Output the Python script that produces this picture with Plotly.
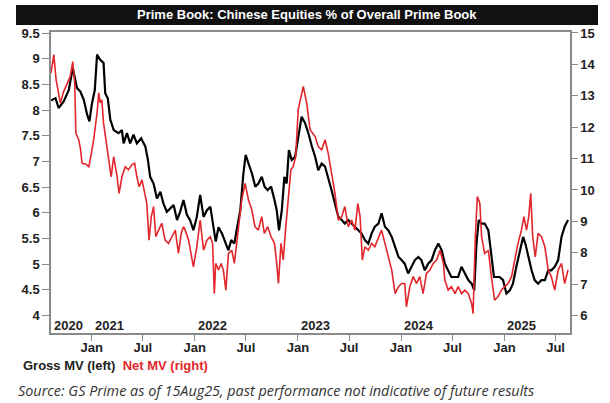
import plotly.graph_objects as go

# ---------------- data ----------------
gross_dates = [
    "2020-08-11","2020-08-14","2020-08-26","2020-09-06","2020-09-24","2020-10-12","2020-10-26","2020-11-10",
    "2020-11-22","2020-12-04","2020-12-16","2020-12-24","2021-01-02","2021-01-12","2021-01-20","2021-01-31",
    "2021-02-12","2021-02-18","2021-02-27","2021-03-08","2021-03-20","2021-04-06","2021-04-18","2021-04-24",
    "2021-05-06","2021-05-17","2021-05-29","2021-06-10","2021-06-25","2021-07-10","2021-07-19","2021-07-27",
    "2021-08-08","2021-08-20","2021-09-01","2021-09-12","2021-09-24","2021-10-06","2021-10-18","2021-10-30",
    "2021-11-10","2021-11-22","2021-12-04","2021-12-15","2021-12-27","2022-01-08","2022-01-20","2022-02-01",
    "2022-02-13","2022-02-25","2022-03-08","2022-03-16","2022-03-26","2022-04-07","2022-04-18","2022-04-30",
    "2022-05-10","2022-05-21","2022-05-29","2022-06-11","2022-06-22","2022-06-30","2022-07-10","2022-07-22",
    "2022-08-03","2022-08-14","2022-08-26","2022-09-05","2022-09-16","2022-09-28","2022-10-10","2022-10-18",
    "2022-10-26","2022-11-05","2022-11-14","2022-11-22","2022-11-30","2022-12-10","2022-12-22","2023-01-03",
    "2023-01-14","2023-01-26","2023-02-07","2023-02-19","2023-03-03","2023-03-14","2023-03-26","2023-04-07",
    "2023-04-18","2023-04-30","2023-05-12","2023-05-24","2023-06-05","2023-06-16","2023-06-28","2023-07-10",
    "2023-07-22","2023-08-03","2023-08-14","2023-08-26","2023-09-07","2023-09-19","2023-09-30","2023-10-13",
    "2023-10-24","2023-11-05","2023-11-17","2023-11-29","2023-12-11","2023-12-23","2024-01-03","2024-01-14",
    "2024-01-26","2024-02-07","2024-02-19","2024-03-02","2024-03-13","2024-03-25","2024-04-06","2024-04-18",
    "2024-04-30","2024-05-12","2024-05-24","2024-06-04","2024-06-16","2024-06-27","2024-07-10","2024-07-21",
    "2024-08-02","2024-08-14","2024-08-26","2024-09-07","2024-09-16","2024-09-24","2024-10-02","2024-10-12",
    "2024-10-23","2024-11-05","2024-11-16","2024-11-25","2024-12-04","2024-12-15","2024-12-27","2025-01-08",
    "2025-01-20","2025-01-31","2025-02-12","2025-02-24","2025-03-08","2025-03-16","2025-03-26","2025-04-07",
    "2025-04-18","2025-04-30","2025-05-12","2025-05-24","2025-06-05","2025-06-16","2025-06-28","2025-07-10",
    "2025-07-22","2025-08-02","2025-08-14",
]
gross_mv = [
    8.18, 8.20, 8.23, 8.04, 8.17, 8.39, 8.82, 8.43,
    8.36, 8.20, 7.91, 7.78, 8.13, 8.39, 9.08, 8.98,
    8.92, 8.33, 8.23, 7.81, 7.61, 7.55, 7.61, 7.35,
    7.55, 7.35, 7.52, 7.35, 7.45, 7.29, 7.03, 6.70,
    6.57, 6.28, 6.41, 6.18, 6.02, 6.09, 6.15, 5.86,
    6.02, 6.25, 5.96, 5.86, 5.66, 5.92, 6.35, 5.92,
    6.05, 6.12, 5.73, 5.44, 5.72, 5.60, 5.44, 5.27,
    5.47, 5.40, 5.66, 6.05, 6.77, 7.13, 6.96, 6.77,
    6.51, 6.57, 6.70, 6.51, 6.44, 6.51, 6.25, 6.05,
    5.66, 6.05, 6.70, 6.57, 7.22, 7.03, 7.09, 7.55,
    7.87, 7.75, 7.55, 7.30, 7.09, 6.83, 6.96, 6.90,
    6.70, 6.44, 6.18, 5.92, 5.86, 5.79, 5.86, 5.79,
    5.73, 5.66, 5.60, 5.47, 5.40, 5.60, 5.73, 5.79,
    5.99, 5.73, 5.66, 5.53, 5.34, 5.14, 5.08, 5.01,
    4.82, 4.95, 5.08, 5.14, 5.08, 4.88, 5.01, 5.08,
    5.27, 5.40, 5.27, 5.01, 4.88, 4.75, 4.75, 4.75,
    4.95, 4.82, 4.69, 4.62, 4.49, 5.40, 5.86, 5.79,
    5.79, 5.66, 5.14, 4.75, 4.75, 4.75, 4.69, 4.43,
    4.49, 4.62, 4.95, 5.27, 5.53, 5.40, 5.14, 4.88,
    4.69, 4.62, 4.69, 4.69, 4.88, 4.88, 4.95, 5.08,
    5.53, 5.73, 5.86,
]

net_dates = [
    "2020-08-10","2020-08-20","2020-08-28","2020-09-06","2020-09-12","2020-09-24","2020-10-05","2020-10-17",
    "2020-10-26","2020-11-02","2020-11-06","2020-11-16","2020-11-22","2020-11-28","2020-12-10","2020-12-22",
    "2020-12-31","2021-01-08","2021-01-20","2021-01-26","2021-01-31","2021-02-06","2021-02-12","2021-02-20",
    "2021-03-02","2021-03-11","2021-03-20","2021-04-01","2021-04-08","2021-04-18","2021-04-30","2021-05-11",
    "2021-05-23","2021-06-02","2021-06-10","2021-06-18","2021-06-28","2021-07-07","2021-07-15","2021-07-23",
    "2021-07-31","2021-08-08","2021-08-16","2021-08-26","2021-09-06","2021-09-18","2021-09-30","2021-10-12",
    "2021-10-24","2021-11-04","2021-11-14","2021-11-22","2021-11-28","2021-12-10","2021-12-21","2021-12-27",
    "2022-01-08","2022-01-20","2022-02-01","2022-02-13","2022-02-25","2022-03-05","2022-03-11","2022-03-16",
    "2022-03-26","2022-04-04","2022-04-12","2022-04-21","2022-04-30","2022-05-12","2022-05-21","2022-05-29",
    "2022-06-07","2022-06-16","2022-06-28","2022-07-10","2022-07-22","2022-08-02","2022-08-14","2022-08-26",
    "2022-09-04","2022-09-16","2022-09-28","2022-10-10","2022-10-18","2022-10-24","2022-11-02","2022-11-10",
    "2022-11-18","2022-11-28","2022-12-07","2022-12-15","2022-12-24","2023-01-02","2023-01-12","2023-01-20",
    "2023-02-01","2023-02-13","2023-03-03","2023-03-14","2023-03-26","2023-04-07","2023-04-18","2023-04-30",
    "2023-05-12","2023-05-24","2023-06-05","2023-06-16","2023-06-28","2023-07-10","2023-07-22","2023-08-01",
    "2023-08-09","2023-08-17","2023-08-26","2023-09-07","2023-09-19","2023-09-30","2023-10-13","2023-10-24",
    "2023-11-05","2023-11-17","2023-11-29","2023-12-11","2023-12-23","2024-01-03","2024-01-14","2024-01-20",
    "2024-02-01","2024-02-13","2024-02-25","2024-03-07","2024-03-19","2024-03-31","2024-04-12","2024-04-24",
    "2024-05-06","2024-05-18","2024-05-30","2024-06-04","2024-06-16","2024-06-27","2024-07-10","2024-07-21",
    "2024-08-02","2024-08-14","2024-08-26","2024-09-07","2024-09-12","2024-09-20","2024-09-27","2024-10-06",
    "2024-10-12","2024-10-23","2024-11-05","2024-11-16","2024-11-27","2024-12-09","2024-12-21","2025-01-02",
    "2025-01-14","2025-01-26","2025-02-06","2025-02-18","2025-03-02","2025-03-11","2025-03-20","2025-03-28",
    "2025-04-04","2025-04-11","2025-04-20","2025-04-30","2025-05-12","2025-05-24","2025-06-05","2025-06-16",
    "2025-06-28","2025-07-10","2025-07-22","2025-08-02","2025-08-14",
]
net_mv = [
    13.72, 14.31, 13.51, 12.98, 12.77, 13.14, 13.35, 13.61,
    14.09, 13.40, 11.81, 11.60, 11.33, 10.85, 10.83, 10.74,
    11.17, 11.60, 12.45, 13.09, 12.77, 12.87, 12.13, 11.60,
    10.85, 10.42, 11.06, 10.42, 9.89, 10.42, 10.74, 10.64,
    10.80, 10.85, 10.42, 10.10, 10.32, 9.89, 9.57, 8.40,
    9.15, 9.47, 8.51, 8.72, 8.94, 8.40, 8.30, 8.51,
    8.72, 7.98, 8.62, 8.83, 8.72, 8.40, 7.87, 7.55,
    8.19, 9.04, 8.08, 8.40, 8.51, 8.30, 6.70, 7.66,
    7.45, 7.66, 7.45, 6.81, 7.98, 8.08, 7.66, 8.30,
    9.15, 9.68, 10.21, 9.68, 9.36, 8.83, 8.72, 9.15,
    8.62, 8.83, 8.51, 8.30, 7.66, 7.02, 8.30, 7.77,
    8.72, 9.79, 10.64, 10.74, 11.06, 12.55, 12.98, 13.30,
    12.77, 11.92, 11.70, 11.38, 11.28, 11.60, 11.17, 10.53,
    9.89, 9.04, 9.15, 9.47, 8.83, 9.04, 8.72, 9.57,
    9.15, 7.77, 8.19, 8.08, 8.30, 8.19, 8.51, 8.72,
    8.30, 7.87, 7.45, 6.70, 6.92, 7.02, 7.02, 6.28,
    6.92, 7.24, 7.02, 7.24, 6.70, 7.34, 7.45, 7.66,
    7.77, 8.08, 7.66, 7.13, 6.81, 6.92, 6.70, 6.92,
    6.70, 6.81, 6.70, 6.38, 6.06, 8.51, 9.79, 9.57,
    8.51, 7.98, 8.08, 7.23, 6.49, 6.60, 6.81, 6.92,
    7.02, 7.24, 7.77, 8.30, 8.72, 9.15, 8.72, 9.15,
    9.89, 8.51, 7.87, 8.62, 8.51, 8.19, 7.45, 7.24,
    6.81, 7.45, 7.66, 7.02, 7.45,
]

x_tick_vals = ["2021-01-01", "2021-07-01", "2022-01-01", "2022-07-01", "2023-01-01",
               "2023-07-01", "2024-01-01", "2024-07-01", "2025-01-01", "2025-07-01"]
x_tick_text = ["Jan", "Jul", "Jan", "Jul", "Jan", "Jul", "Jan", "Jul", "Jan", "Jul"]
year_labels = ["2020", "2021", "2022", "2023", "2024", "2025"]
year_label_dates = ["2020-08-11", "2021-01-01", "2022-01-01", "2023-01-01", "2024-01-01", "2025-01-01"]
left_ticks = [4, 4.5, 5, 5.5, 6, 6.5, 7, 7.5, 8, 8.5, 9, 9.5]
left_tick_text = ["4", "4.5", "5", "5.5", "6", "6.5", "7", "7.5", "8", "8.5", "9", "9.5"]
right_ticks = [6, 7, 8, 9, 10, 11, 12, 13, 14, 15]

title_text = "Prime Book: Chinese Equities % of Overall Prime Book"
legend_gross = "Gross MV (left)"
legend_net = "Net MV (right)"
source_text = "Source: GS Prime as of 15Aug25, past performance not indicative of future results"

# ---------------- layout helpers ----------------
W, H = 610, 403
ML, MR, MT, MB = 51, 40, 32, 70


def px(xp):
    return (xp - ML) / (W - ML - MR)


def py(yp):
    return (H - MB - yp) / (H - MT - MB)


BLACK = "#000000"
RED = "#e3262b"
AXIS = "#8a8a8a"
TXT = "#222222"
FONT = "Liberation Sans, Arial, sans-serif"

fig = go.Figure()
fig.add_trace(go.Scatter(x=gross_dates, y=gross_mv, mode="lines", name=legend_gross,
                         line=dict(color=BLACK, width=2.2), yaxis="y"))
fig.add_trace(go.Scatter(x=net_dates, y=net_mv, mode="lines", name=legend_net,
                         line=dict(color=RED, width=1.6), yaxis="y2"))

tickfont = dict(family=FONT, size=13, color=TXT, weight="bold")

fig.update_layout(
    width=W, height=H,
    margin=dict(l=ML, r=MR, t=MT, b=MB, pad=0),
    paper_bgcolor="white", plot_bgcolor="white",
    showlegend=False,
    xaxis=dict(type="date", range=["2020-08-10", "2025-08-21"],
               tickmode="array", tickvals=x_tick_vals, ticktext=x_tick_text,
               ticks="outside", ticklen=6, tickwidth=1.3, tickcolor=AXIS,
               ticklabelstandoff=-4,
               showline=True, linecolor=AXIS, linewidth=1.5, mirror=True,
               showgrid=False, zeroline=False, tickfont=tickfont),
    yaxis=dict(range=[3.66, 9.52], tickmode="array", tickvals=left_ticks, ticktext=left_tick_text,
               ticks="outside", ticklen=7, tickwidth=1.3, tickcolor=AXIS,
               showline=True, linecolor=AXIS, linewidth=1.5,
               showgrid=False, zeroline=False, tickfont=tickfont),
    yaxis2=dict(range=[5.445, 15.03], overlaying="y", side="right",
                tickmode="array", tickvals=right_ticks,
                ticks="outside", ticklen=6, tickwidth=1.3, tickcolor=AXIS,
                showline=True, linecolor=AXIS, linewidth=1.5,
                showgrid=False, zeroline=False, tickfont=tickfont),
)

# title bar
fig.add_shape(type="rect", xref="paper", yref="paper",
              x0=px(16), x1=px(598), y0=py(25), y1=py(5),
              fillcolor="#111111", line=dict(width=0), layer="above")
fig.add_annotation(xref="paper", yref="paper", x=px(307), y=py(15),
                   text=title_text, showarrow=False, xanchor="center", yanchor="middle",
                   font=dict(family=FONT, size=13, color="white", weight="bold"))

# year labels inside plot
for lab, d in zip(year_labels, year_label_dates):
    fig.add_annotation(xref="x", yref="paper", x=d, y=py(325), text=lab, showarrow=False,
                       xanchor="left", yanchor="middle", xshift=1,
                       font=dict(family=FONT, size=13, color=TXT, weight="bold"))

# legend text
fig.add_annotation(xref="paper", yref="paper", x=px(21), y=py(365), showarrow=False,
                   xanchor="left", yanchor="middle",
                   text=f"<b>{legend_gross}</b>  <b><span style='color:{RED}'>{legend_net}</span></b>",
                   font=dict(family=FONT, size=13, color=TXT))

# source
fig.add_annotation(xref="paper", yref="paper", x=px(16), y=py(390), showarrow=False,
                   xanchor="left", yanchor="middle", text=source_text,
                   font=dict(family="Open Sans, sans-serif", size=14.4, color="#333333", style="italic"))

fig.write_html("out.html", config={"displayModeBar": False},
               post_script="document.body.style.margin='0';document.body.style.overflow='hidden';")
